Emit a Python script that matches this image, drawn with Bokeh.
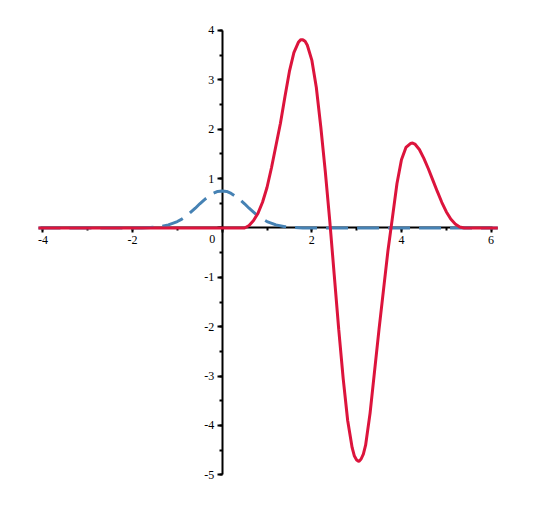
from bokeh.plotting import figure
from bokeh.models import Range1d, SingleIntervalTicker, Label
from bokeh.embed import file_html
from bokeh.resources import INLINE

# Red curve
red_x = [-4.1, 0.4, 0.5, 0.6, 0.7, 0.8, 0.9, 1.0, 1.1, 1.2, 1.3, 1.4, 1.5, 1.6, 1.7, 1.75,
         1.8, 1.85, 1.9, 2.0, 2.1, 2.2, 2.3, 2.4, 2.5, 2.6, 2.7, 2.8, 2.9, 2.95, 3.0, 3.05,
         3.1, 3.15, 3.2, 3.3, 3.4, 3.5, 3.6, 3.7, 3.8, 3.9, 4.0, 4.1, 4.2, 4.25, 4.3, 4.4,
         4.5, 4.6, 4.7, 4.8, 4.9, 5.0, 5.1, 5.2, 5.3, 5.4, 6.15]
red_y = [0.0, 0.0, 0.0, 0.05, 0.15, 0.30, 0.52, 0.82, 1.22, 1.67, 2.12, 2.66, 3.17, 3.55, 3.76, 3.81,
         3.81, 3.78, 3.70, 3.40, 2.85, 2.05, 1.15, 0.15, -0.95, -2.05, -3.05, -3.90, -4.45, -4.62, -4.70, -4.73,
         -4.68, -4.58, -4.40, -3.75, -2.90, -2.05, -1.25, -0.45, 0.22, 0.90, 1.38, 1.63, 1.71, 1.72, 1.70, 1.59,
         1.41, 1.20, 0.97, 0.74, 0.52, 0.33, 0.18, 0.08, 0.02, 0.0, 0.0]

# Blue dashed curve
blue_x = [-4.1, -1.8, -1.6, -1.4, -1.2, -1.0, -0.9, -0.8, -0.7, -0.6, -0.5, -0.4, -0.3, -0.2, -0.1, 0.0,
          0.1, 0.2, 0.3, 0.4, 0.5, 0.6, 0.7, 0.8, 0.9, 1.0, 1.2, 1.4, 1.6, 1.8, 6.15]
blue_y = [0.0, 0.0, 0.01, 0.024, 0.062, 0.13, 0.18, 0.24, 0.32, 0.40, 0.49, 0.57, 0.64, 0.70, 0.74, 0.75,
          0.74, 0.70, 0.64, 0.57, 0.49, 0.40, 0.32, 0.24, 0.18, 0.13, 0.062, 0.024, 0.01, 0.0, 0.0]

x_ticks = [-4, -2, 0, 2, 4, 6]
x_labels = ["-4", "-2", "", "2", "4", "6"]
y_ticks = [-5, -4, -3, -2, -1, 0, 1, 2, 3, 4]
y_labels = ["-5", "-4", "-3", "-2", "-1", "", "1", "2", "3", "4"]

p = figure(frame_width=493, frame_height=480,
           x_range=Range1d(-4.5, 6.5), y_range=Range1d(-5.318, 4.405),
           min_border_left=20, min_border_right=10, min_border_top=10, min_border_bottom=4,
           output_backend="svg", toolbar_location=None)
p.outline_line_color = None
p.xgrid.visible = False
p.ygrid.visible = False

p.line(blue_x, blue_y, line_color="#4682B4", line_width=3, line_dash="22 9", level="overlay")
p.line(red_x, red_y, line_color="#DC143C", line_width=3, level="overlay")

font = "Liberation Serif"
for ax, ticks, labels, bounds in ((p.xaxis[0], x_ticks, x_labels, (-4.05, 6.03)),
                                  (p.yaxis[0], y_ticks, y_labels, (-5, 4))):
    ax.fixed_location = 0
    ax.bounds = bounds
    ax.ticker = SingleIntervalTicker(interval=ticks[1] - ticks[0], num_minor_ticks=2)
    ax.major_label_overrides = {t: l for t, l in zip(ticks, labels)}
    ax.axis_line_width = 2
    ax.axis_line_color = "black"
    ax.major_tick_line_width = 2
    ax.minor_tick_line_width = 2
    ax.major_tick_in = 0
    ax.major_tick_out = 5
    ax.minor_tick_in = 0
    ax.minor_tick_out = 3
    ax.major_label_text_font = font
    ax.major_label_text_font_size = "12px"
    ax.major_label_text_color = "black"
    ax.major_label_standoff = 3

p.add_layout(Label(x=0, y=0, text="0", x_offset=-10, y_offset=-11,
                   text_align="center", text_baseline="middle",
                   text_font=font, text_font_size="12px", text_color="black"))

open("out.html", "w").write(file_html(p, INLINE))
